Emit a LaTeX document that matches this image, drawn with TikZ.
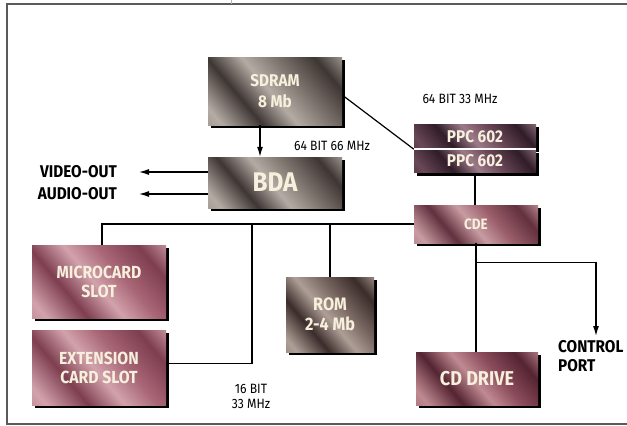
\documentclass[tikz,border=0pt]{standalone}
\usepackage{fontspec}
\newfontfamily\cond[FakeStretch=0.9]{Fira Sans}
\usetikzlibrary{arrows.meta,shadows,calc}
\definecolor{boxtext}{HTML}{F6F0DC}
\definecolor{frameclr}{HTML}{5A5A5A}
% gray metal
\definecolor{ga}{HTML}{3E3634}\definecolor{gb}{HTML}{807670}\definecolor{gc}{HTML}{B4ABA4}
% purple metal
\definecolor{pa}{HTML}{301C28}\definecolor{pb}{HTML}{6A4858}\definecolor{pc}{HTML}{9C7A8A}
% mauve (CDE)
\definecolor{ma}{HTML}{62303E}\definecolor{mb}{HTML}{9A5E6A}\definecolor{mc}{HTML}{C89CA2}
% pink (slots)
\definecolor{ka}{HTML}{7E3E50}\definecolor{kb}{HTML}{A86676}\definecolor{kc}{HTML}{D2A2AC}
% brown (ROM)
\definecolor{ra}{HTML}{3A2C2A}\definecolor{rb}{HTML}{786660}\definecolor{rc}{HTML}{AE9E96}
% CD drive
\definecolor{da}{HTML}{542432}\definecolor{db}{HTML}{8C4C5C}\definecolor{dc}{HTML}{C08A92}
\pgfdeclarehorizontalshading{shgray}{100bp}{color(0bp)=(gb); color(20bp)=(gc); color(35bp)=(ga); color(48bp)=(gc); color(60bp)=(gb); color(75bp)=(ga); color(88bp)=(gc); color(100bp)=(gb)}
\pgfdeclarehorizontalshading{shpurple}{100bp}{color(0bp)=(pa); color(20bp)=(pb); color(35bp)=(pa); color(48bp)=(pc); color(60bp)=(pb); color(75bp)=(pa); color(88bp)=(pc); color(100bp)=(pb)}
\pgfdeclarehorizontalshading{shmauve}{100bp}{color(0bp)=(mb); color(20bp)=(mc); color(35bp)=(ma); color(48bp)=(mc); color(60bp)=(mb); color(75bp)=(ma); color(88bp)=(mc); color(100bp)=(mb)}
\pgfdeclarehorizontalshading{shpink}{100bp}{color(0bp)=(kb); color(20bp)=(kc); color(35bp)=(ka); color(48bp)=(kc); color(60bp)=(kb); color(75bp)=(ka); color(88bp)=(kc); color(100bp)=(kb)}
\pgfdeclarehorizontalshading{shbrown}{100bp}{color(0bp)=(rb); color(20bp)=(rc); color(35bp)=(ra); color(48bp)=(rc); color(60bp)=(rb); color(75bp)=(ra); color(88bp)=(rc); color(100bp)=(rb)}
\pgfdeclarehorizontalshading{shdrive}{100bp}{color(0bp)=(db); color(20bp)=(dc); color(35bp)=(da); color(48bp)=(dc); color(60bp)=(db); color(75bp)=(da); color(88bp)=(dc); color(100bp)=(db)}
\begin{document}
\begin{tikzpicture}[x=1pt,y=-1pt,
  box/.style={rectangle, inner sep=0pt, align=center, text=boxtext, shade, shading angle=40,
    drop shadow={fill=black, opacity=1, shadow xshift=3pt, shadow yshift=-3pt}},
  wire/.style={line width=1.2pt, black},
  arr/.style={wire, -{Latex[length=10pt,width=6pt]}},
  lbl/.style={inner sep=0pt, text=black, font=\cond\bfseries\fontsize{17}{19}\selectfont},
  note/.style={inner sep=0pt, text=black, align=center, font=\cond\fontsize{13.5}{15}\selectfont}]
\useasboundingbox (0,0) rectangle (627,426);
\fill[white] (0,0) rectangle (627,426);
% frame
\draw[frameclr, line width=1.3pt] (627,4) -- (7,4) -- (7,424) -- (627,424);
\draw[gray!60, line width=0.6pt] (231,0) -- (231,4);
% boxes
\node[box, shading=shgray, minimum width=134pt, minimum height=68pt,
  font=\cond\bfseries\fontsize{17}{21}\selectfont] (sdram) at (275,91) {SDRAM\\8 Mb};
\node[box, shading=shgray, minimum width=134pt, minimum height=51pt,
  font=\cond\bfseries\fontsize{27}{28}\selectfont] (bda) at (275,182.5) {BDA};
\node[box, shading=shpurple, minimum width=122pt, minimum height=25pt,
  font=\cond\bfseries\fontsize{17}{18}\selectfont] (ppca) at (475,136.5) {PPC 602};
\node[box, shading=shpurple, minimum width=122pt, minimum height=23pt,
  font=\cond\bfseries\fontsize{17}{18}\selectfont] (ppcb) at (475,161) {PPC 602};
\draw[white, line width=1.5pt] (ppca.south west) -- (ppca.south east);
\node[box, shading=shmauve, minimum width=124pt, minimum height=38pt,
  font=\cond\bfseries\fontsize{15}{16}\selectfont] (cde) at (476,224) {CDE};
\node[box, shading=shpink, minimum width=134pt, minimum height=73pt,
  font=\cond\bfseries\fontsize{17.5}{19}\selectfont] (micro) at (99,281.5) {MICROCARD\\SLOT};
\node[box, shading=shpink, minimum width=134pt, minimum height=75pt,
  font=\cond\bfseries\fontsize{17.5}{19}\selectfont] (ext) at (99,367.5) {EXTENSION\\CARD SLOT};
\node[box, shading=shbrown, minimum width=88pt, minimum height=75pt,
  font=\cond\bfseries\fontsize{18}{20}\selectfont] (rom) at (330,314.5) {ROM\\2-4 Mb};
\node[box, shading=shdrive, minimum width=122pt, minimum height=53pt,
  font=\cond\bfseries\fontsize{20}{22}\selectfont] (cddrive) at (477,378.5) {CD DRIVE};
% labels
\node[lbl, anchor=east] (video) at (117,172) {VIDEO-OUT};
\node[lbl, anchor=east] (audio) at (117,194) {AUDIO-OUT};
\node[lbl, anchor=north west, align=left] (ctrl) at (558,340) {CONTROL\\PORT};
\node[note] (n6466) at (332,146) {64 BIT 66 MHz};
\node[note] (n6433) at (460,99) {64 BIT 33 MHz};
\node[note] (n1633) at (251,396) {16 BIT\\33 MHz};
% coordinates
\coordinate (j16) at (252,224);
\coordinate (branch) at ($(cde.south)+(0,19)$);
\coordinate (cparr) at (596,336);
% connectors
\draw[arr] ([xshift=-15pt]sdram.south) -- ([xshift=-15pt]bda.north);
\draw[wire] ([yshift=-4pt]sdram.east) -- (ppca.south west);
\draw[arr, shorten >=22pt] (bda.west |- video) -- (video.east);
\draw[arr, shorten >=22pt] (bda.west |- audio) -- (audio.east);
\draw[wire] (ppcb.south) -- (ppcb.south |- cde.north);
\draw[wire] (cde.west) -| ([xshift=3pt]micro.north);
\draw[wire] (rom.north) -- (rom.north |- cde.west);
\draw[wire] ([yshift=4pt]ext.east) -| (j16);
\draw[wire] (cde.south) -- (cde.south |- cddrive.north);
\draw[arr] (branch) -| (cparr);
\end{tikzpicture}
\end{document}
